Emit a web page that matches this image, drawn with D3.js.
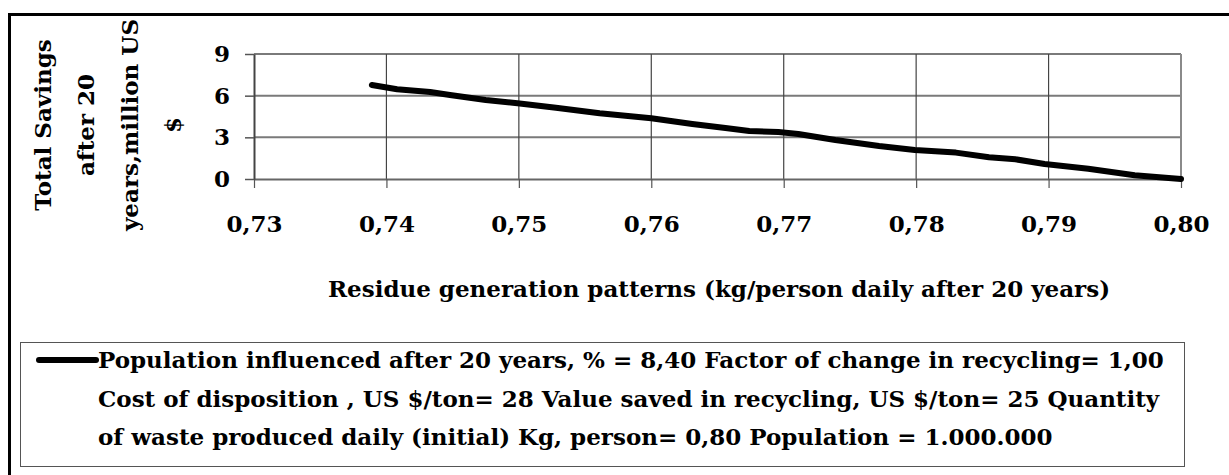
<!DOCTYPE html>
<html>
<head>
<meta charset="utf-8">
<script src="https://cdn.jsdelivr.net/npm/d3@7"></script>
<style>
  html, body { margin: 0; padding: 0; background: #fff; }
  svg text { font-family: "DejaVu Serif", serif; font-weight: bold; fill: #000; }
</style>
</head>
<body>
<div id="chart"></div>
<script>
// Data
let residue = [0.7389, 0.7408, 0.7433, 0.7448, 0.7475, 0.7499, 0.7528, 0.7561, 0.7600, 0.7631, 0.7656, 0.7674,
    0.7696, 0.7711, 0.7739, 0.7772, 0.7799, 0.7830, 0.7855, 0.7875, 0.7897, 0.7930, 0.7965, 0.8000];
let savings = [6.77, 6.46, 6.26, 6.05, 5.69, 5.45, 5.13, 4.73, 4.37, 3.96, 3.67, 3.46,
    3.38, 3.24, 2.81, 2.38, 2.09, 1.90, 1.56, 1.42, 1.08, 0.74, 0.27, 0.00];
let xTicks = [0.73, 0.74, 0.75, 0.76, 0.77, 0.78, 0.79, 0.80];
let yTicks = [0, 3, 6, 9];
let yTitle = ['Total Savings', 'after 20', 'years,million US', '$'];
let xTitle = 'Residue generation patterns (kg/person daily after 20 years)';
let legendLines = [
    'Population influenced after 20 years, % = 8,40 Factor of change in recycling= 1,00',
    'Cost of disposition , US $/ton= 28 Value saved in recycling, US $/ton= 25 Quantity',
    'of waste produced daily (initial) Kg, person= 0,80 Population = 1.000.000'
];

let data = residue.map(function (d, i) {
    return { x: d, y: savings[i] };
});

let fs = 23;

// Set dimensions and margins
let W = 1229, H = 475;
let margin = { top: 54, left: 254 },
    width = 1181 - margin.left,
    height = 179 - margin.top;

let x = d3.scaleLinear().domain([0.73, 0.80]).range([0, width]);
let y = d3.scaleLinear().domain([0, 9]).range([height, 0]);

let svg = d3.select('#chart')
    .append('svg')
    .attr('width', W)
    .attr('height', H);

// outer frame (runs off the right and bottom edges)
svg.append('rect')
    .attr('x', 9.5)
    .attr('y', 14.5)
    .attr('width', W + 20)
    .attr('height', H + 20)
    .attr('fill', 'none')
    .attr('stroke', '#000')
    .attr('stroke-width', 3);

let g = svg.append('g')
    .attr('transform', 'translate(' + margin.left + ',' + margin.top + ')');

// horizontal grid
g.selectAll('.hgrid')
    .data(yTicks.filter(function (d) { return d > 0; }))
    .enter().append('line')
    .attr('x1', 0).attr('x2', width)
    .attr('y1', function (d) { return y(d); })
    .attr('y2', function (d) { return y(d); })
    .attr('stroke', '#7a7a7a')
    .attr('stroke-width', 2);

// vertical grid
g.selectAll('.vgrid')
    .data(xTicks.slice(1))
    .enter().append('line')
    .attr('x1', function (d) { return x(d); })
    .attr('x2', function (d) { return x(d); })
    .attr('y1', 0).attr('y2', height)
    .attr('stroke', function (d) { return d === 0.80 ? '#8a8a8a' : '#444'; })
    .attr('stroke-width', function (d) { return d === 0.80 ? 2 : 1.2; });

// X axis
let xAxis = g.append('g')
    .attr('transform', 'translate(0,' + height + ')')
    .call(d3.axisBottom(x)
        .tickValues(xTicks)
        .tickSize(9)
        .tickSizeOuter(0)
        .tickPadding(28)
        .tickFormat(function (d) { return d3.format('.2f')(d).replace('.', ','); }));
xAxis.select('.domain').attr('stroke', '#666').attr('stroke-width', 2);
xAxis.selectAll('.tick line').attr('stroke', '#555').attr('stroke-width', 1.2);
xAxis.selectAll('text').attr('font-size', fs).attr('font-family', null);

// Y axis
let yAxis = g.append('g')
    .call(d3.axisLeft(y)
        .tickValues(yTicks)
        .tickSize(9)
        .tickSizeOuter(0)
        .tickPadding(15));
yAxis.select('.domain').attr('stroke', '#444').attr('stroke-width', 2);
yAxis.selectAll('.tick line').attr('stroke', '#555').attr('stroke-width', 1.5);
yAxis.selectAll('text').attr('font-size', fs).attr('font-family', null);

// savings line
let line = d3.line()
    .x(function (d) { return x(d.x); })
    .y(function (d) { return y(d.y); });

g.append('path')
    .datum(data)
    .attr('d', line)
    .attr('fill', 'none')
    .attr('stroke', '#000')
    .attr('stroke-width', 6)
    .attr('stroke-linejoin', 'round')
    .attr('stroke-linecap', 'round');

// Y axis title, rotated, several lines
let yTitleG = svg.append('g')
    .attr('transform', 'translate(0,125) rotate(-90)');
yTitleG.selectAll('text')
    .data(yTitle)
    .enter().append('text')
    .attr('x', 0)
    .attr('y', function (d, i) { return 43 + i * 43.3; })
    .attr('dy', '0.35em')
    .attr('text-anchor', 'middle')
    .attr('font-size', fs)
    .text(function (d) { return d; });

// X axis title
svg.append('text')
    .attr('x', 719)
    .attr('y', 297)
    .attr('text-anchor', 'middle')
    .attr('font-size', fs)
    .text(xTitle);

// Legend
let legend = svg.append('g');
legend.append('rect')
    .attr('x', 20.5)
    .attr('y', 342.5)
    .attr('width', 1164)
    .attr('height', 124)
    .attr('fill', '#fff')
    .attr('stroke', '#555')
    .attr('stroke-width', 1);

legend.append('line')
    .attr('x1', 39).attr('x2', 96)
    .attr('y1', 360).attr('y2', 360)
    .attr('stroke', '#000')
    .attr('stroke-width', 6)
    .attr('stroke-linecap', 'round');

legend.selectAll('.legend-text')
    .data(legendLines)
    .enter().append('text')
    .attr('x', 98)
    .attr('y', function (d, i) { return 368 + i * 38.5; })
    .attr('font-size', fs)
    .text(function (d) { return d; });
</script>
</body>
</html>
